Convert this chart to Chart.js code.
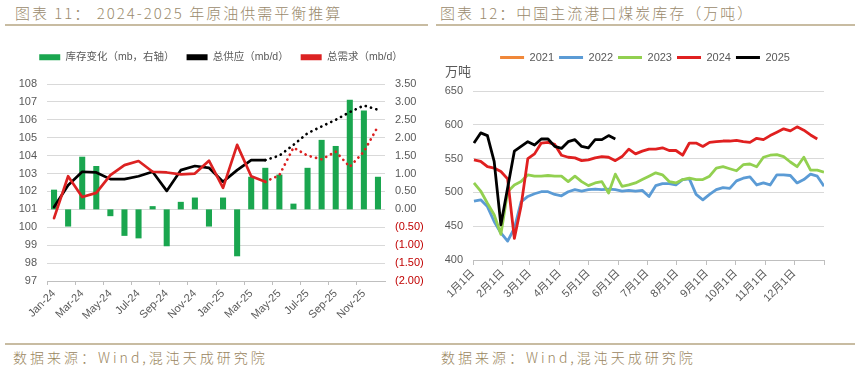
<!DOCTYPE html>
<html><head><meta charset="utf-8">
<script src="https://cdn.jsdelivr.net/npm/chart.js@4.4.0/dist/chart.umd.min.js"></script>
<style>
html,body{margin:0;padding:0;background:#fff;width:861px;height:369px;overflow:hidden;font-family:"Noto Sans CJK SC",sans-serif;}
.title{position:absolute;top:3px;font-size:15px;font-weight:300;color:#9a8a6c;letter-spacing:2px;white-space:nowrap;line-height:20px;}
.rule{position:absolute;height:2px;background:#c8bca2;}
.src{position:absolute;top:347px;font-size:14px;font-weight:300;color:#9a8660;letter-spacing:3px;white-space:nowrap;line-height:20px;}
#c1wrap{position:absolute;left:0;top:30px;width:430px;height:300px;}
#c2wrap{position:absolute;left:430px;top:30px;width:431px;height:300px;}
.unit{position:absolute;left:445px;top:62px;font-size:13px;color:#595959;line-height:18px;}
</style></head>
<body>
<div class="title" style="left:15px">图表 11： 2024-2025 年原油供需平衡推算</div>
<div class="title" style="left:440px">图表 12：中国主流港口煤炭库存（万吨）</div>
<div class="rule" style="left:5px;top:24px;width:423px"></div>
<div class="rule" style="left:436px;top:24px;width:419px"></div>
<div id="c1wrap"><canvas id="c1"></canvas></div>
<div id="c2wrap"><canvas id="c2"></canvas></div>
<div class="unit">万吨</div>
<div class="rule" style="left:5px;top:343px;width:850px;height:1.5px"></div>
<div class="src" style="left:13px">数据来源：Wind,混沌天成研究院</div>
<div class="src" style="left:441px">数据来源：Wind,混沌天成研究院</div>
<script>
// ---------- Chart 11 data ----------
const months = ['Jan-24','Feb-24','Mar-24','Apr-24','May-24','Jun-24','Jul-24','Aug-24','Sep-24','Oct-24','Nov-24','Dec-24',
                'Jan-25','Feb-25','Mar-25','Apr-25','May-25','Jun-25','Jul-25','Aug-25','Sep-25','Oct-25','Nov-25','Dec-25'];
const inventoryChange = [0.55,-0.48,1.47,1.21,-0.19,-0.74,-0.81,0.09,-1.03,0.21,0.33,-0.48,
                         0.33,-1.31,0.91,1.16,0.97,0.16,1.16,1.94,1.77,3.06,2.76,0.91];
const totalSupply = [101.13,102.35,103.10,103.06,102.69,102.69,102.85,103.10,102.03,103.19,103.42,103.32,
                     102.54,103.19,103.75,103.75,104.00,104.60,105.25,105.63,106.00,106.43,106.80,106.56];
const totalDemand = [100.51,102.85,101.69,101.92,102.91,103.47,103.70,103.10,103.06,102.95,103.00,103.72,
                     102.20,104.60,102.85,102.54,102.91,104.45,104.00,103.79,104.22,103.38,104.22,105.63];
const forecastStart = 'Apr-25';
const leftLegend = ['库存变化（mb，右轴）','总供应（mb/d）','总需求（mb/d）'];

// ---------- Chart 12 data ----------
const weekDays = [1,8,15,22,29,36,43,50,57,64,71,78,85,92,99,106,113,120,127,134,141,148,155,162,169,176,
                  183,190,197,204,211,218,225,232,239,246,253,260,267,274,281,288,295,302,309,316,323,330,337,344,351,358,365];
const monthStartDays = [0,31,59,90,120,151,181,212,243,273,304,334,365];
const monthLabels = ['1月1日','2月1日','3月1日','4月1日','5月1日','6月1日','7月1日','8月1日','9月1日','10月1日','11月1日','12月1日'];
const seriesNames = ['2021','2022','2023','2024','2025'];
const s2021 = [];
const s2022 = [487,489,479,457,440,428,447,486,494,498, 501,501,497,495,501,504,502,504,505,504,
               505,504,502,503,502,503,494,510,513,513, 511,519,520,497,489,497,504,507,506,517,
               521,523,511,514,511,526,526,525,514,519, 527,524,509];
const s2023 = [514,502,484,467,438,501,511,516,526,524, 524,525,524,524,516,524,516,510,514,516,
               499,527,509,511,514,519,524,529,526,516, 514,519,521,519,519,524,536,538,535,532,
               541,542,538,552,555,556,553,545,538,552, 533,533,530];
const s2024 = [548,546,538,536,531,520,432,480,550,557, 573,574,571,555,552,551,547,548,551,553,
               552,547,553,564,557,561,564,564,566,562, 562,555,573,573,568,574,575,576,576,577,
               575,574,580,578,584,589,594,591,597,592, 585,579,null];
const s2025 = [573,588,584,546,452,null,561,568,575,570, 579,579,568,565,575,578,568,566,578,578, 584,579];

// ---------- common ----------
Chart.defaults.font.family = '"Liberation Sans","Noto Sans CJK SC",sans-serif';
Chart.defaults.font.size = 11;
Chart.defaults.color = '#595959';

function legendTweak(h, dx){
  return { id:'legendTweak', beforeLayout(chart){
    const lg = chart.legend;
    if (lg && !lg._patched){
      const f = lg.fit.bind(lg); lg.fit = function(){ f(); this.height = h; };
      const d = lg.draw.bind(lg); lg.draw = function(){ const c = this.ctx; c.save(); c.translate(dx,0); d(); c.restore(); };
      lg._patched = true;
    }
  }};
}
function labelsFrom(chart){
  return chart.data.datasets.map((ds,i)=>({text:ds.label, fillStyle:ds.legendColor, strokeStyle:ds.legendColor,
    lineWidth:0, hidden:false, datasetIndex:i, fontColor:'#595959'}));
}

const fIdx = months.indexOf(forecastStart);
const dotted = ctx => ctx.p0DataIndex >= fIdx ? [0.1, 5.4] : [];

new Chart(document.getElementById('c1'), {
  data: {
    labels: months,
    datasets: [
      {type:'bar', label:leftLegend[0], data:inventoryChange, yAxisID:'yR', backgroundColor:'#1aa64f',
       barPercentage:0.43, categoryPercentage:1, order:3, legendColor:'#1aa64f'},
      {type:'line', label:leftLegend[1], data:totalSupply, yAxisID:'yL', borderColor:'#000000', borderWidth:2.7,
       pointRadius:0, order:2, borderCapStyle:'round', borderJoinStyle:'round', segment:{borderDash:dotted}, legendColor:'#000000'},
      {type:'line', label:leftLegend[2], data:totalDemand, yAxisID:'yL', borderColor:'#dc2222', borderWidth:2.7,
       pointRadius:0, order:1, borderCapStyle:'round', borderJoinStyle:'round', segment:{borderDash:dotted}, legendColor:'#dc2222'}
    ]
  },
  options: {
    responsive:true, maintainAspectRatio:false, animation:false, devicePixelRatio:1,
    layout:{padding:{top:10,left:0,right:0,bottom:0}},
    plugins:{
      legend:{position:'top', labels:{boxWidth:21, boxHeight:6, padding:12, generateLabels:labelsFrom, font:{size:10.5}}},
      tooltip:{enabled:false}
    },
    scales:{
      x:{type:'category', offset:true,
         grid:{offset:true, drawOnChartArea:false, drawTicks:true, tickLength:4,
               color: c => (c.index % 2 === 0 ? '#bfbfbf' : 'rgba(0,0,0,0)')},
         border:{display:true, color:'#bfbfbf'},
         ticks:{autoSkip:false, maxRotation:45, minRotation:45, padding:2,
                callback:(v,i)=> (i % 2 === 0 ? months[i] : '')},
         afterFit: s => { s.height = 49; }},
      yL:{type:'linear', position:'left', min:97, max:108,
          ticks:{stepSize:1, padding:10}, grid:{color:'#d9d9d9', drawTicks:false}, border:{display:false},
          afterFit: s => { s.width = 47; }},
      yR:{type:'linear', position:'right', min:-2, max:3.5,
          ticks:{stepSize:0.5, padding:10,
                 callback: v => (v < 0 ? '(' + Math.abs(v).toFixed(2) + ')' : v.toFixed(2)),
                 color: c => (c.tick && c.tick.value < 0 ? '#c00000' : '#595959')},
          grid:{display:false, drawTicks:false}, border:{display:false},
          afterFit: s => { s.width = 45; }}
    }
  },
  plugins:[legendTweak(44, 6)]
});

const colors2 = ['#f0883a','#5b9bd5','#92d050','#e02020','#000000'];
const values2 = [s2021, s2022, s2023, s2024, s2025];
new Chart(document.getElementById('c2'), {
  type:'line',
  data:{ datasets: seriesNames.map((name,k)=>({
    label:name, data: values2[k].map((v,i)=>({x:weekDays[i], y:v})),
    borderColor:colors2[k], legendColor:colors2[k], borderWidth:2.8, pointRadius:0,
    spanGaps:true, order:5-k, borderJoinStyle:'round'
  }))},
  options:{
    responsive:true, maintainAspectRatio:false, animation:false, devicePixelRatio:1,
    layout:{padding:{top:17,left:0,right:37,bottom:0}},
    plugins:{
      legend:{position:'top', labels:{boxWidth:24, boxHeight:3, padding:5, generateLabels:labelsFrom, font:{size:11}}},
      tooltip:{enabled:false}
    },
    scales:{
      x:{type:'linear', min:0, max:365,
         afterBuildTicks: s => { s.ticks = monthStartDays.map(v=>({value:v})); },
         ticks:{autoSkip:false, maxRotation:45, minRotation:45, padding:2,
                callback:(v,i)=> (monthLabels[i] || '')},
         grid:{drawOnChartArea:false, drawTicks:true, tickLength:5, color:'#bfbfbf'},
         border:{display:true, color:'#bfbfbf'},
         afterFit: s => { s.height = 70; }},
      y:{min:400, max:650, ticks:{stepSize:50, padding:10},
         grid:{color:'#d9d9d9', drawTicks:false}, border:{display:false},
         afterFit: s => { s.width = 43; }}
    }
  },
  plugins:[legendTweak(44, 18)]
});
</script>
</body></html>
